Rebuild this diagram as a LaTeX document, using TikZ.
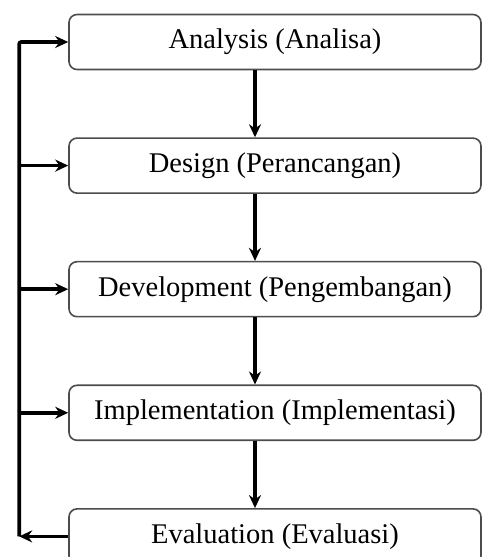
\documentclass[tikz,border=0pt]{standalone}
\usepackage{fontspec}
\setmainfont{Liberation Serif}
\usetikzlibrary{arrows.meta,positioning,calc}

\begin{document}
\begin{tikzpicture}[x=1pt,y=1pt,node distance=67pt,
  phase/.style={draw=black!70,line width=1.6pt,rounded corners=8pt,
    minimum width=412pt,minimum height=55pt,inner sep=0pt,
    font=\fontsize{28.5}{34}\selectfont},
  flow/.style={line width=3.6pt,-{Stealth[length=13pt,width=12pt]}}]
\useasboundingbox (0,0) rectangle (482,557);
% phases
\node[phase] (analysis) at (275,515) {Analysis (Analisa)};
\node[phase,below=of analysis] (design) {Design (Perancangan)};
\node[phase,below=of design] (development) {Development (Pengembangan)};
\node[phase,below=of development] (implementation) {Implementation (Implementasi)};
\node[phase,below=of implementation] (evaluation) {Evaluation (Evaluasi)};
% main flow
\foreach \a/\b in {analysis/design,design/development,development/implementation,implementation/evaluation}
  \draw[flow] ([xshift=-20pt]\a.south) -- ([xshift=-20pt]\b.north);
% feedback loop
\coordinate[left=49pt of evaluation.west] (back);
\coordinate (top) at (back |- analysis.west);
\draw[flow] (evaluation.west) -- (back);
\draw[flow,rounded corners=2pt] (back) -- (top) -- (analysis.west);
\foreach \n in {design,development,implementation}
  \draw[flow] (back |- \n.west) -- (\n.west);
\end{tikzpicture}
\end{document}
